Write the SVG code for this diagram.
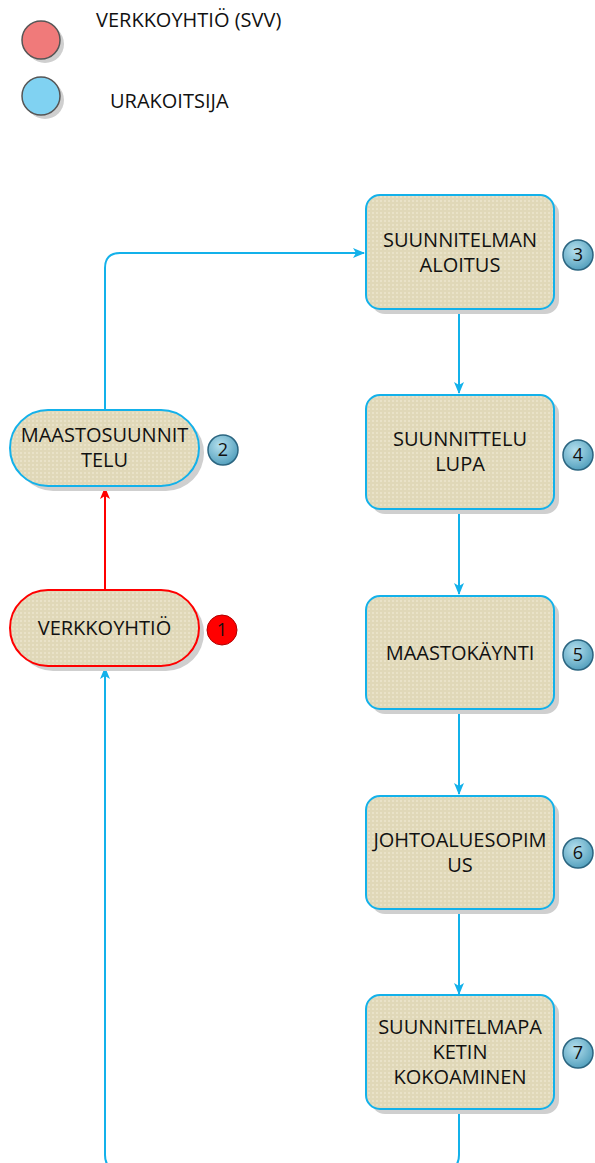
<svg xmlns="http://www.w3.org/2000/svg" width="595" height="1163" viewBox="0 0 595 1163">
<defs>
<pattern id="tex" width="4" height="4" patternUnits="userSpaceOnUse">
<rect width="4" height="4" fill="#e0d8b8"/>
<rect x="0" y="0" width="2" height="2" fill="#e9e2c8"/>
</pattern>
<radialGradient id="bl" cx="0.4" cy="0.35" r="0.7">
<stop offset="0" stop-color="#b5e0ee"/>
<stop offset="1" stop-color="#4f9dbb"/>
</radialGradient>
<marker id="ab" viewBox="0 0 12 10" refX="11" refY="5" markerWidth="12" markerHeight="10" markerUnits="userSpaceOnUse" orient="auto">
<path d="M0,0 L12,5 L0,10 L3,5 Z" fill="#13b1ea"/>
</marker>
<marker id="ar" viewBox="0 0 12 10" refX="11" refY="5" markerWidth="12" markerHeight="10" markerUnits="userSpaceOnUse" orient="auto">
<path d="M0,0 L12,5 L0,10 L3,5 Z" fill="#ff0000"/>
</marker>
</defs>
<style>
text{font-family:"Open Sans","Liberation Sans",sans-serif;fill:#111}
.t{font-size:20px;text-anchor:middle}
.lg{font-size:20px}
.n{font-size:18px;text-anchor:middle}
.sh{fill:#cfcfcf}
.box{fill:url(#tex);stroke:#13b1ea;stroke-width:2}
.red{fill:url(#tex);stroke:#ff0000;stroke-width:2}
.bb{fill:url(#bl);stroke:#2b6580;stroke-width:1.5}
.c{fill:none;stroke:#13b1ea;stroke-width:2}
.cr{fill:none;stroke:#ff0000;stroke-width:2}
</style>
<g id="legend">
<circle cx="45" cy="44" r="19" class="sh"/>
<circle cx="41" cy="40" r="19" fill="#f07a7a" stroke="#555" stroke-width="1.5"/>
<text x="96" y="27" class="lg">VERKKOYHTIÖ (SVV)</text>
<circle cx="45" cy="100" r="19" class="sh"/>
<circle cx="41" cy="96" r="19" fill="#80d2f2" stroke="#555" stroke-width="1.5"/>
<text x="110" y="108" class="lg">URAKOITSIJA</text>
</g>
<g id="connectors">
<path class="c" d="M105,410 V268 Q105,253 120,253 H364" marker-end="url(#ab)"/>
<path class="cr" d="M105,590 V488" marker-end="url(#ar)"/>
<path class="c" d="M459,309 V393" marker-end="url(#ab)"/>
<path class="c" d="M459,509 V594" marker-end="url(#ab)"/>
<path class="c" d="M459,709 V794" marker-end="url(#ab)"/>
<path class="c" d="M459,909 V994" marker-end="url(#ab)"/>
<path class="c" d="M459,1109 V1155 Q459,1170 444,1170 H120 Q105,1170 105,1155 V668" marker-end="url(#ab)"/>
</g>
<g id="n1">
<rect x="15" y="595" width="189" height="76" rx="38" class="sh"/>
<rect x="10" y="590" width="189" height="76" rx="38" class="red"/>
<text x="104.5" y="635" class="t">VERKKOYHTIÖ</text>
<circle cx="222" cy="630" r="15" fill="#ff0000" stroke="#b00000" stroke-width="1"/>
<text x="222" y="636" class="n">1</text>
</g>
<g id="n2">
<rect x="15" y="415" width="189" height="76" rx="38" class="sh"/>
<rect x="10" y="410" width="189" height="76" rx="38" class="box"/>
<text x="104.5" y="442" class="t">MAASTOSUUNNIT</text>
<text x="104.5" y="467" class="t">TELU</text>
<circle cx="223" cy="450" r="15" class="bb"/>
<text x="223" y="456" class="n">2</text>
</g>
<g id="n3">
<rect x="371" y="200" width="188" height="114" rx="14" class="sh"/>
<rect x="366" y="195" width="188" height="114" rx="14" class="box"/>
<text x="460" y="247" class="t">SUUNNITELMAN</text>
<text x="460" y="272" class="t">ALOITUS</text>
<circle cx="578" cy="255" r="15" class="bb"/>
<text x="578" y="261" class="n">3</text>
</g>
<g id="n4">
<rect x="371" y="400" width="188" height="114" rx="14" class="sh"/>
<rect x="366" y="395" width="188" height="114" rx="14" class="box"/>
<text x="460" y="446" class="t">SUUNNITTELU</text>
<text x="460" y="471" class="t">LUPA</text>
<circle cx="578" cy="455" r="15" class="bb"/>
<text x="578" y="461" class="n">4</text>
</g>
<g id="n5">
<rect x="371" y="601" width="188" height="113" rx="14" class="sh"/>
<rect x="366" y="596" width="188" height="113" rx="14" class="box"/>
<text x="460" y="660" class="t">MAASTOKÄYNTI</text>
<circle cx="578" cy="655" r="15" class="bb"/>
<text x="578" y="661" class="n">5</text>
</g>
<g id="n6">
<rect x="371" y="801" width="188" height="113" rx="14" class="sh"/>
<rect x="366" y="796" width="188" height="113" rx="14" class="box"/>
<text x="460" y="847" class="t">JOHTOALUESOPIM</text>
<text x="460" y="872" class="t">US</text>
<circle cx="578" cy="853" r="15" class="bb"/>
<text x="578" y="859" class="n">6</text>
</g>
<g id="n7">
<rect x="371" y="1000" width="188" height="114" rx="14" class="sh"/>
<rect x="366" y="995" width="188" height="114" rx="14" class="box"/>
<text x="460" y="1034" class="t">SUUNNITELMAPA</text>
<text x="460" y="1059" class="t">KETIN</text>
<text x="460" y="1084" class="t">KOKOAMINEN</text>
<circle cx="578" cy="1053" r="15" class="bb"/>
<text x="578" y="1059" class="n">7</text>
</g>
</svg>
